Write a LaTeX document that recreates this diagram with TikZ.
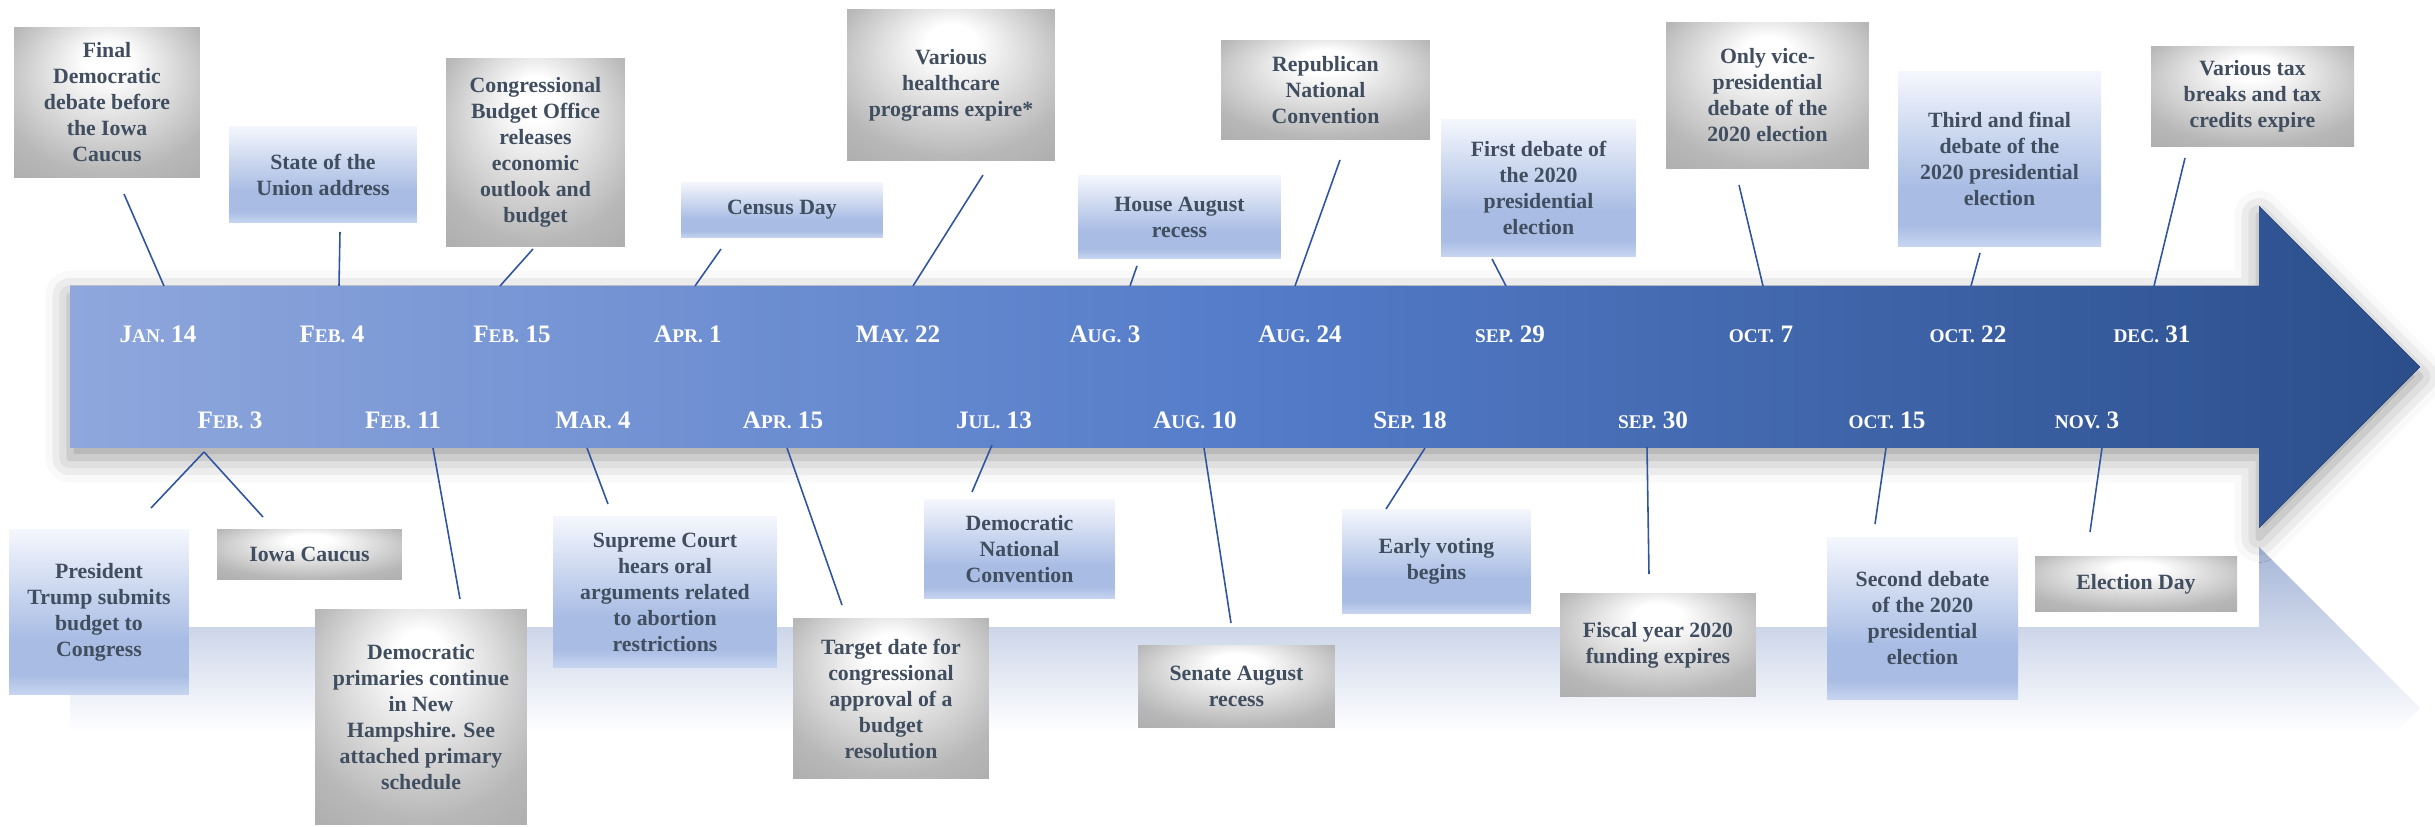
\documentclass[tikz,border=0pt]{standalone}
\usepackage{fontspec}
\setmainfont{Liberation Serif}
\usetikzlibrary{shadows.blur}
\definecolor{arrow_l}{RGB}{143,167,220}
\definecolor{arrow_m}{RGB}{84,124,201}
\definecolor{arrow_r}{RGB}{43,78,139}
\definecolor{txt_grey}{RGB}{64,78,95}
\definecolor{line_blue}{RGB}{47,84,160}
\definecolor{refl_blue}{RGB}{166,182,216}
\definecolor{box_lo}{RGB}{200,214,240}
\definecolor{box_mid}{RGB}{169,189,228}
\definecolor{box_hi}{RGB}{245,247,253}
\pgfdeclareradialshading{grey_glow}{\pgfpoint{0bp}{16bp}}{color(0bp)=(white); color(6bp)=(white); color(30bp)=(black!28); color(50bp)=(black!37)}
\pgfdeclareverticalshading{blue_fade}{100bp}{color(0bp)=(box_lo); color(25bp)=(box_lo); color(31bp)=(box_mid); color(42bp)=(box_mid); color(75bp)=(box_hi); color(100bp)=(box_hi)}
\pgfdeclareverticalshading{refl_fade}{100bp}{color(0bp)=(white); color(37bp)=(white); color(75bp)=(refl_blue); color(100bp)=(refl_blue)}
\newcommand{\smc}[1]{{\fontsize{11}{12}\selectfont #1}}
\tikzstyle{greybox}=[rectangle,shade,shading=grey_glow,text=txt_grey,align=center,
  inner sep=0pt,font=\bfseries\fontsize{12.4}{14.8}\selectfont]
\tikzstyle{bluebox}=[rectangle,shade,shading=blue_fade,text=txt_grey,align=center,
  inner sep=0pt,font=\bfseries\fontsize{12.4}{14.8}\selectfont]
\tikzstyle{datelbl}=[text=white,anchor=base,inner sep=0pt,font=\bfseries\fontsize{14.3}{16}\selectfont]
\tikzstyle{conn}=[draw=line_blue,line width=0.9pt]

\begin{document}
\begin{tikzpicture}[x=0.02cm,y=-0.02cm]
    \useasboundingbox (0,0) rectangle (2435,827);
    \shade[shading=refl_fade] (70,627) -- (2259,627) -- (2259,547) -- (2420,708)
      -- (2338,790) -- (70,790) -- cycle;
    \fill[blur shadow={shadow xshift=0pt,shadow yshift=-5.5pt,shadow blur radius=14pt,shadow opacity=40},
      left color=arrow_l,right color=arrow_r,middle color=arrow_m]
      (70,286) -- (2259,286) -- (2259,206) -- (2420,367) -- (2259,528) -- (2259,448) -- (70,448) -- cycle;

    \node [style=datelbl] (jan14) at (158,343) {J\smc{AN.} 14};
    \node [style=datelbl] (feb4) at (332,343) {F\smc{EB.} 4};
    \node [style=datelbl] (feb15) at (512,343) {F\smc{EB.} 15};
    \node [style=datelbl] (apr1) at (688,343) {A\smc{PR.} 1};
    \node [style=datelbl] (may22) at (898,343) {M\smc{AY.} 22};
    \node [style=datelbl] (aug3) at (1105,343) {A\smc{UG.} 3};
    \node [style=datelbl] (aug24) at (1300,343) {A\smc{UG.} 24};
    \node [style=datelbl] (sep29) at (1510,343) {\smc{SEP.} 29};
    \node [style=datelbl] (oct7) at (1761,343) {\smc{OCT.} 7};
    \node [style=datelbl] (oct22) at (1968,343) {\smc{OCT.} 22};
    \node [style=datelbl] (dec31) at (2152,343) {\smc{DEC.} 31};
    \node [style=datelbl] (feb3) at (230,429) {F\smc{EB.} 3};
    \node [style=datelbl] (feb11) at (403,429) {F\smc{EB.} 11};
    \node [style=datelbl] (mar4) at (593,429) {M\smc{AR.} 4};
    \node [style=datelbl] (apr15) at (783,429) {A\smc{PR.} 15};
    \node [style=datelbl] (jul13) at (994,429) {J\smc{UL.} 13};
    \node [style=datelbl] (aug10) at (1195,429) {A\smc{UG.} 10};
    \node [style=datelbl] (sep18) at (1410,429) {S\smc{EP.} 18};
    \node [style=datelbl] (sep30) at (1653,429) {\smc{SEP.} 30};
    \node [style=datelbl] (oct15) at (1887,429) {\smc{OCT.} 15};
    \node [style=datelbl] (nov3) at (2087,429) {\smc{NOV.} 3};

    \node [style=greybox,minimum width=3.72cm,minimum height=3.02cm] (iowa_debate) at (107,102.5) {Final\\Democratic\\debate before\\the Iowa\\Caucus};
    \node [style=bluebox,minimum width=3.76cm,minimum height=1.94cm] (sotu) at (323,174.5) {State of the\\Union address};
    \node [style=greybox,minimum width=3.58cm,minimum height=3.78cm] (cbo) at (535.5,152.5) {Congressional\\Budget Office\\releases\\economic\\outlook and\\budget};
    \node [style=bluebox,minimum width=4.04cm,minimum height=1.12cm] (census) at (782,210) {Census Day};
    \node [style=greybox,minimum width=4.16cm,minimum height=3.04cm] (health) at (951,85) {Various\\healthcare\\programs expire*};
    \node [style=bluebox,minimum width=4.06cm,minimum height=1.68cm] (house) at (1179.5,217) {House August\\recess};
    \node [style=greybox,minimum width=4.18cm,minimum height=2.0cm] (rnc) at (1325.5,90) {Republican\\National\\Convention};
    \node [style=bluebox,minimum width=3.9cm,minimum height=2.76cm] (debate1) at (1538.5,188) {First debate of\\the 2020\\presidential\\election};
    \node [style=greybox,minimum width=4.06cm,minimum height=2.94cm] (vp_debate) at (1767.5,95.5) {Only vice-\\presidential\\debate of the\\2020 election};
    \node [style=bluebox,minimum width=4.06cm,minimum height=3.52cm] (debate3) at (1999.5,159) {Third and final\\debate of the\\2020 presidential\\election};
    \node [style=greybox,minimum width=4.06cm,minimum height=2.02cm] (tax) at (2252.5,96.5) {Various tax\\breaks and tax\\credits expire};
    \node [style=bluebox,minimum width=3.6cm,minimum height=3.32cm] (trump_budget) at (99,612) {President\\Trump submits\\budget to\\Congress};
    \node [style=greybox,minimum width=3.7cm,minimum height=1.02cm] (caucus) at (309.5,554.5) {Iowa Caucus};
    \node [style=greybox,minimum width=4.24cm,minimum height=4.32cm] (nh_primary) at (421,717) {Democratic\\primaries continue\\in New\\Hampshire. See\\attached primary\\schedule};
    \node [style=bluebox,minimum width=4.48cm,minimum height=3.04cm] (scotus) at (665,592) {Supreme Court\\hears oral\\arguments related\\to abortion\\restrictions};
    \node [style=greybox,minimum width=3.92cm,minimum height=3.22cm] (budget_res) at (891,698.5) {Target date for\\congressional\\approval of a\\budget\\resolution};
    \node [style=bluebox,minimum width=3.82cm,minimum height=2.0cm] (dnc) at (1019.5,549) {Democratic\\National\\Convention};
    \node [style=greybox,minimum width=3.94cm,minimum height=1.66cm] (senate) at (1236.5,686.5) {Senate August\\recess};
    \node [style=bluebox,minimum width=3.78cm,minimum height=2.1cm] (early_vote) at (1436.5,561.5) {Early voting\\begins};
    \node [style=greybox,minimum width=3.92cm,minimum height=2.08cm] (fiscal) at (1658,645) {Fiscal year 2020\\funding expires};
    \node [style=bluebox,minimum width=3.82cm,minimum height=3.26cm] (debate2) at (1922.5,618.5) {Second debate\\of the 2020\\presidential\\election};
    \node [style=greybox,minimum width=4.04cm,minimum height=1.12cm] (election) at (2136,584) {Election Day};

    \coordinate (jan14_a) at (124,194);
    \coordinate (jan14_b) at (164,286);
    \coordinate (feb4_a) at (340,232);
    \coordinate (feb4_b) at (339,286);
    \coordinate (feb15_a) at (533,249);
    \coordinate (feb15_b) at (500,286);
    \coordinate (apr1_a) at (721,249);
    \coordinate (apr1_b) at (695,286);
    \coordinate (may22_a) at (983,175);
    \coordinate (may22_b) at (913,286);
    \coordinate (aug3_a) at (1137,266);
    \coordinate (aug3_b) at (1130,286);
    \coordinate (aug24_a) at (1340,160);
    \coordinate (aug24_b) at (1295,286);
    \coordinate (sep29_a) at (1492,259);
    \coordinate (sep29_b) at (1506,286);
    \coordinate (oct7_a) at (1739,185);
    \coordinate (oct7_b) at (1763,286);
    \coordinate (oct22_a) at (1980,253);
    \coordinate (oct22_b) at (1971,286);
    \coordinate (dec31_a) at (2185,158);
    \coordinate (dec31_b) at (2154,286);
    \coordinate (feb3_a) at (204,452);
    \coordinate (feb3_b) at (151,508);
    \coordinate (feb3_c) at (263,517);
    \coordinate (feb11_a) at (433,448);
    \coordinate (feb11_b) at (460,599);
    \coordinate (mar4_a) at (587,448);
    \coordinate (mar4_b) at (608,504);
    \coordinate (apr15_a) at (787,448);
    \coordinate (apr15_b) at (842,605);
    \coordinate (jul13_a) at (992,445);
    \coordinate (jul13_b) at (972,492);
    \coordinate (aug10_a) at (1204,448);
    \coordinate (aug10_b) at (1231,623);
    \coordinate (sep18_a) at (1425,448);
    \coordinate (sep18_b) at (1386,509);
    \coordinate (sep30_a) at (1647,447);
    \coordinate (sep30_b) at (1649,574);
    \coordinate (oct15_a) at (1886,448);
    \coordinate (oct15_b) at (1875,524);
    \coordinate (nov3_a) at (2102,448);
    \coordinate (nov3_b) at (2090,532);

    \draw [style=conn] (jan14_a) to (jan14_b);
    \draw [style=conn] (feb4_a) to (feb4_b);
    \draw [style=conn] (feb15_a) to (feb15_b);
    \draw [style=conn] (apr1_a) to (apr1_b);
    \draw [style=conn] (may22_a) to (may22_b);
    \draw [style=conn] (aug3_a) to (aug3_b);
    \draw [style=conn] (aug24_a) to (aug24_b);
    \draw [style=conn] (sep29_a) to (sep29_b);
    \draw [style=conn] (oct7_a) to (oct7_b);
    \draw [style=conn] (oct22_a) to (oct22_b);
    \draw [style=conn] (dec31_a) to (dec31_b);
    \draw [style=conn] (feb3_b) to (feb3_a);
    \draw [style=conn] (feb3_a) to (feb3_c);
    \draw [style=conn] (feb11_a) to (feb11_b);
    \draw [style=conn] (mar4_a) to (mar4_b);
    \draw [style=conn] (apr15_a) to (apr15_b);
    \draw [style=conn] (jul13_a) to (jul13_b);
    \draw [style=conn] (aug10_a) to (aug10_b);
    \draw [style=conn] (sep18_a) to (sep18_b);
    \draw [style=conn] (sep30_a) to (sep30_b);
    \draw [style=conn] (oct15_a) to (oct15_b);
    \draw [style=conn] (nov3_a) to (nov3_b);
  \end{tikzpicture}
\end{document}
